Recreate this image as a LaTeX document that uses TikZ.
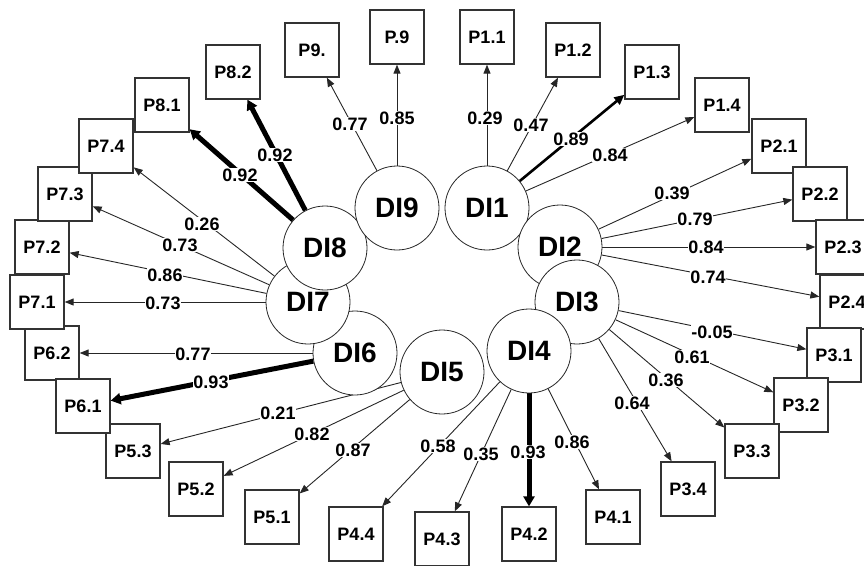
\documentclass[tikz,border=0pt]{standalone}
\usepackage{fontspec}
\setmainfont{Liberation Sans}
\usetikzlibrary{arrows.meta}
\pgfdeclarelayer{edgelayer}
\pgfsetlayers{edgelayer,main}
\begin{document}
\begin{tikzpicture}[x=1pt,y=-1pt,
 lv/.style={circle, draw=black!85, line width=0.8pt, fill=white, minimum size=84pt, inner sep=0pt, font=\bfseries\fontsize{28}{28}\selectfont},
 ind/.style={draw=black!80, line width=1.3pt, fill=white, minimum width=54pt, minimum height=54pt, inner sep=0pt, font=\bfseries\fontsize{18}{18}\selectfont},
 ld/.style={draw=black!85, line width=0.9pt, -{Triangle[length=9pt,width=7pt]}},
 ldmed/.style={ld, draw=black, line width=2.6pt, -{Triangle[length=10pt,width=9pt]}},
 ldthick/.style={ld, draw=black, line width=5pt, -{Triangle[length=10pt,width=11pt]}},
 wt/.style={fill=white, inner sep=0.6pt, font=\bfseries\fontsize{18}{18}\selectfont}]
\useasboundingbox (0,0) rectangle (864,565);
\clip (0,0) rectangle (864,565);
% latent variables
\node[lv] (DI1) at (487,208) {DI1};
\node[lv] (DI2) at (560,247) {DI2};
\node[lv] (DI3) at (577,302) {DI3};
\node[lv] (DI4) at (529,351) {DI4};
\node[lv] (DI5) at (442,372) {DI5};
\node[lv] (DI6) at (355,353) {DI6};
\node[lv] (DI7) at (308,302) {DI7};
\node[lv] (DI8) at (325,248) {DI8};
\node[lv] (DI9) at (397,208) {DI9};
% indicators
\node[ind] (p9a) at (312,50) {P9.};
\node[ind] (p9b) at (397,37) {P.9};
\node[ind] (p11) at (487,37) {P1.1};
\node[ind] (p12) at (573,50) {P1.2};
\node[ind] (p13) at (652,72) {P1.3};
\node[ind] (p14) at (722,105) {P1.4};
\node[ind] (p21) at (779,146) {P2.1};
\node[ind] (p22) at (820,194) {P2.2};
\node[ind] (p23) at (843,247) {P2.3};
\node[ind] (p24) at (847,302) {P2.4};
\node[ind] (p31) at (834,355) {P3.1};
\node[ind] (p32) at (801,405) {P3.2};
\node[ind] (p33) at (752,451) {P3.3};
\node[ind] (p34) at (688,489) {P3.4};
\node[ind] (p41) at (613,517) {P4.1};
\node[ind] (p42) at (529,534) {P4.2};
\node[ind] (p43) at (442,539) {P4.3};
\node[ind] (p44) at (356,534) {P4.4};
\node[ind] (p51) at (272,517) {P5.1};
\node[ind] (p52) at (196,489) {P5.2};
\node[ind] (p53) at (133,451) {P5.3};
\node[ind] (p62) at (52,353) {P6.2};
\node[ind] (p61) at (83,406) {P6.1};
\node[ind] (p71) at (37,302) {P7.1};
\node[ind] (p72) at (42,247) {P7.2};
\node[ind] (p73) at (65,194) {P7.3};
\node[ind] (p74) at (106,146) {P7.4};
\node[ind] (p81) at (162,105) {P8.1};
\node[ind] (p82) at (233,72) {P8.2};
% loadings
\begin{pgfonlayer}{edgelayer}
\draw[ld] (DI9) -- (p9a);
\draw[ld] (DI9) -- (p9b);
\draw[ld] (DI1) -- (p11);
\draw[ld] (DI1) -- (p12);
\draw[ldmed] (DI1) -- (p13);
\draw[ld] (DI1) -- (p14);
\draw[ld] (DI2) -- (p21);
\draw[ld] (DI2) -- (p22);
\draw[ld] (DI2) -- (p23);
\draw[ld] (DI2) -- (p24);
\draw[ld] (DI3) -- (p31);
\draw[ld] (DI3) -- (p32);
\draw[ld] (DI3) -- (p33);
\draw[ld] (DI3) -- (p34);
\draw[ld] (DI4) -- (p41);
\draw[ldthick] (DI4) -- (p42);
\draw[ld] (DI4) -- (p43);
\draw[ld] (DI4) -- (p44);
\draw[ld] (DI5) -- (p51);
\draw[ld] (DI5) -- (p52);
\draw[ld] (DI5) -- (p53);
\draw[ldthick] (DI6) -- (p61);
\draw[ld] (DI6) -- (p62);
\draw[ld] (DI7) -- (p71);
\draw[ld] (DI7) -- (p72);
\draw[ld] (DI7) -- (p73);
\draw[ld] (DI7) -- (p74);
\draw[ldthick] (DI8) -- (p81);
\draw[ldthick] (DI8) -- (p82);
\end{pgfonlayer}
% labels
\node[wt] (l9a) at (350,124) {0.77};
\node[wt] (l9b) at (397,118) {0.85};
\node[wt] (l11) at (485,118) {0.29};
\node[wt] (l12) at (531,125) {0.47};
\node[wt] (l13) at (571,139) {0.89};
\node[wt] (l14) at (610,155) {0.84};
\node[wt] (l21) at (672,193) {0.39};
\node[wt] (l22) at (695,219) {0.79};
\node[wt] (l23) at (706,247) {0.84};
\node[wt] (l24) at (708,277) {0.74};
\node[wt] (l31) at (712,332) {-0.05};
\node[wt] (l32) at (692,357) {0.61};
\node[wt] (l33) at (666,380) {0.36};
\node[wt] (l34) at (632,403) {0.64};
\node[wt] (l41) at (572,442) {0.86};
\node[wt] (l42) at (528,452) {0.93};
\node[wt] (l43) at (481,454) {0.35};
\node[wt] (l44) at (438,446) {0.58};
\node[wt] (l51) at (353,450) {0.87};
\node[wt] (l52) at (312,434) {0.82};
\node[wt] (l53) at (278,413) {0.21};
\node[wt] (l61) at (211,382) {0.93};
\node[wt] (l62) at (193,354) {0.77};
\node[wt] (l71) at (163,303) {0.73};
\node[wt] (l72) at (165,275) {0.86};
\node[wt] (l73) at (180,245) {0.73};
\node[wt] (l74) at (202,224) {0.26};
\node[wt] (l81) at (240,175) {0.92};
\node[wt] (l82) at (275,155) {0.92};
\end{tikzpicture}
\end{document}
